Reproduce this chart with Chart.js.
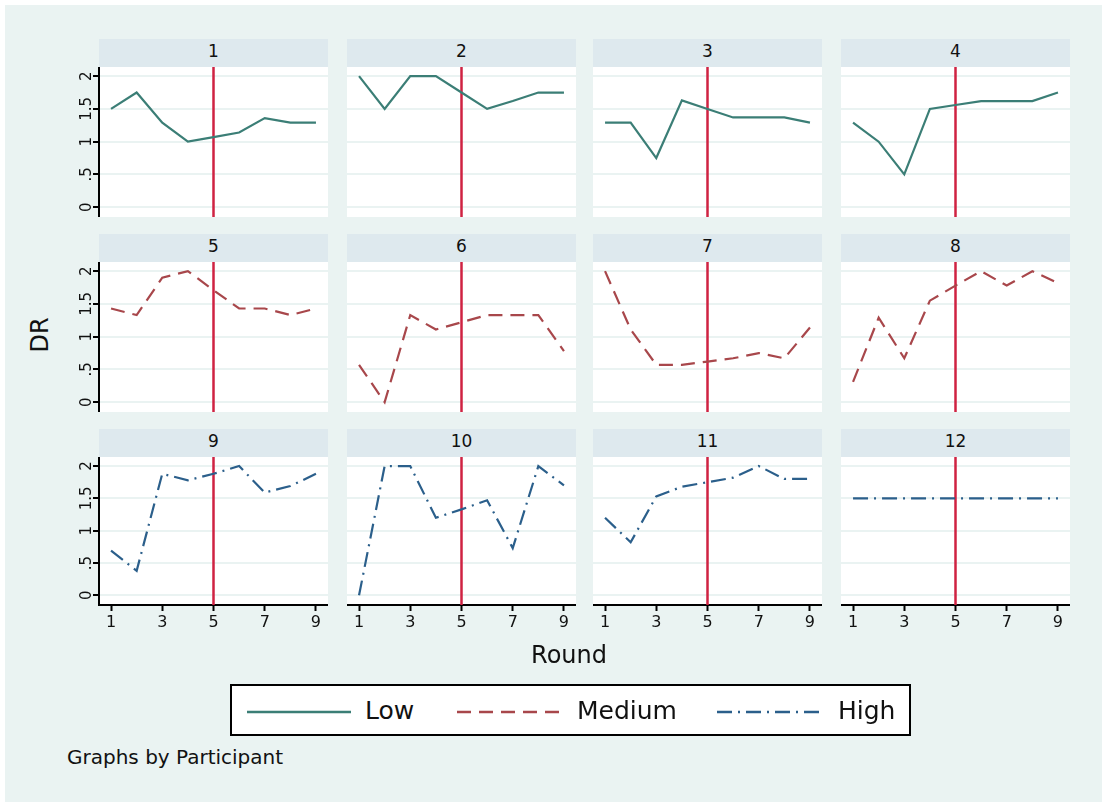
<!DOCTYPE html>
<html>
<head>
<meta charset="utf-8">
<script src="https://cdn.jsdelivr.net/npm/chart.js@4.4.1/dist/chart.umd.min.js"></script>
<style>
  body { margin:0; width:1102px; height:802px; background:#fff; position:relative; overflow:hidden; font-family:'DejaVu Sans', sans-serif; color:#111; }
  #bg { position:absolute; left:5px; top:5px; right:0; bottom:0; background:#eaf3f2; }
  .strip { position:absolute; height:28px; background:#dee9ee; text-align:center; font-size:17px; line-height:25px; }
  .plot { position:absolute; }
  .title { position:absolute; font-size:24px; white-space:nowrap; transform:translate(-50%,-50%); }
  #legend { position:absolute; left:230px; top:684px; width:677px; height:48px; background:#fff; border:2px solid #000; }
  #legend svg { position:absolute; top:0; }
  #legend span { position:absolute; top:10px; font-size:25px; line-height:30px; }
  #note { position:absolute; left:67px; top:745px; font-size:20px; }
</style>
</head>
<body>
<div id="bg"></div>
<div id="panels"></div>
<div class="title" style="left:40px;top:335px;transform:translate(-50%,-50%) rotate(-90deg);">DR</div>
<div class="title" style="left:569px;top:655px;">Round</div>
<div id="legend">
  <svg style="left:13px" width="108" height="48"><line x1="2" y1="26" x2="106" y2="26" stroke="#3b7e76" stroke-width="2.5"/></svg>
  <span style="left:133px">Low</span>
  <svg style="left:223px" width="108" height="48"><line x1="2" y1="26" x2="106" y2="26" stroke="#a8474b" stroke-width="2.5" stroke-dasharray="14 8"/></svg>
  <span style="left:345px">Medium</span>
  <svg style="left:483px" width="108" height="48"><line x1="2" y1="26" x2="106" y2="26" stroke="#2b5f8b" stroke-width="2.5" stroke-dasharray="15 6 2 6"/></svg>
  <span style="left:606px">High</span>
</div>
<div id="note">Graphs by Participant</div>

<script>
// data
const rounds = [1, 2, 3, 4, 5, 6, 7, 8, 9];
const participants = ['1', '2', '3', '4', '5', '6', '7', '8', '9', '10', '11', '12'];
const treatment = ['Low', 'Low', 'Low', 'Low', 'Medium', 'Medium', 'Medium', 'Medium', 'High', 'High', 'High', 'High'];
const dr1  = [1.5, 1.75, 1.29, 1.0, 1.07, 1.14, 1.36, 1.29, 1.29];
const dr2  = [2.0, 1.5, 2.0, 2.0, 1.75, 1.5, 1.62, 1.75, 1.75];
const dr3  = [1.29, 1.29, 0.75, 1.63, 1.5, 1.37, 1.37, 1.37, 1.29];
const dr4  = [1.29, 1.0, 0.5, 1.5, 1.56, 1.62, 1.62, 1.62, 1.75];
const dr5  = [1.43, 1.33, 1.9, 2.0, 1.71, 1.43, 1.43, 1.33, 1.43];
const dr6  = [0.57, 0.0, 1.33, 1.11, 1.22, 1.33, 1.33, 1.33, 0.78];
const dr7  = [2.0, 1.11, 0.57, 0.57, 0.62, 0.67, 0.75, 0.67, 1.14];
const dr8  = [0.31, 1.29, 0.67, 1.55, 1.78, 2.0, 1.78, 2.0, 1.82];
const dr9  = [0.69, 0.38, 1.88, 1.78, 1.88, 2.0, 1.59, 1.69, 1.88];
const dr10 = [0.0, 2.0, 2.0, 1.2, 1.33, 1.47, 0.73, 2.0, 1.7];
const dr11 = [1.2, 0.82, 1.53, 1.68, 1.75, 1.82, 2.0, 1.8, 1.8];
const dr12 = [1.5, 1.5, 1.5, 1.5, 1.5, 1.5, 1.5, 1.5, 1.5];
const drSeries = [dr1, dr2, dr3, dr4, dr5, dr6, dr7, dr8, dr9, dr10, dr11, dr12];
const yTicks = [0, 0.5, 1, 1.5, 2];
const yTickLabels = ['0', '.5', '1', '1.5', '2'];
const xTicks = [1, 3, 5, 7, 9];
const cutRound = 5;

// layout
const colLeft = [99, 347, 593, 841];
const rowTop = [39, 234, 429];
const plotW = 229;
const stripH = 28;
const plotH = [150, 150, 148];
const yAxisW = 40;
const xAxisH = 40;

const lineStyle = {
  Low:    { color: '#3b7e76', dash: [] },
  Medium: { color: '#a8474b', dash: [14, 8] },
  High:   { color: '#2b5f8b', dash: [15, 6, 2, 6] }
};

// white plot region, axis margins stay transparent
const plotFill = {
  id: 'plotFill',
  beforeDraw(chart) {
    const a = chart.chartArea, ctx = chart.ctx;
    ctx.save();
    ctx.fillStyle = '#ffffff';
    ctx.fillRect(a.left, a.top, a.right - a.left, a.bottom - a.top);
    ctx.restore();
  }
};

const cutLine = {
  id: 'cutLine',
  beforeDatasetsDraw(chart) {
    const ctx = chart.ctx;
    const x = chart.scales.x.getPixelForValue(cutRound);
    ctx.save();
    ctx.strokeStyle = '#cf2242';
    ctx.lineWidth = 2.5;
    ctx.beginPath();
    ctx.moveTo(x, chart.chartArea.top);
    ctx.lineTo(x, chart.chartArea.bottom);
    ctx.stroke();
    ctx.restore();
  }
};

// stata style vertical tick labels on the left axis
const rotatedYLabels = {
  id: 'rotatedYLabels',
  afterDraw(chart, args, opts) {
    if (!opts.show) return;
    const y = chart.scales.y, ctx = chart.ctx;
    ctx.save();
    ctx.font = '15px "DejaVu Sans"';
    ctx.fillStyle = '#111';
    ctx.textAlign = 'center';
    ctx.textBaseline = 'alphabetic';
    y.ticks.forEach(t => {
      ctx.save();
      ctx.translate(y.right - 8, y.getPixelForValue(t.value));
      ctx.rotate(-Math.PI / 2);
      ctx.fillText(yTickLabels[yTicks.indexOf(t.value)], 0, 0);
      ctx.restore();
    });
    ctx.restore();
  }
};

const host = document.getElementById('panels');

participants.forEach((name, i) => {
  const r = Math.floor(i / 4), c = i % 4;
  const showY = c === 0, showX = r === 2;

  const strip = document.createElement('div');
  strip.className = 'strip';
  strip.style.left = colLeft[c] + 'px';
  strip.style.top = rowTop[r] + 'px';
  strip.style.width = plotW + 'px';
  strip.textContent = name;
  host.appendChild(strip);

  const cv = document.createElement('canvas');
  cv.className = 'plot';
  const w = plotW + (showY ? yAxisW : 0);
  const h = plotH[r] + (showX ? xAxisH : 0);
  cv.width = w; cv.height = h;
  cv.style.width = w + 'px'; cv.style.height = h + 'px';
  cv.style.left = (colLeft[c] - (showY ? yAxisW : 0)) + 'px';
  cv.style.top = (rowTop[r] + stripH) + 'px';
  host.appendChild(cv);

  const st = lineStyle[treatment[i]];
  new Chart(cv, {
    type: 'line',
    data: {
      datasets: [{
        label: treatment[i],
        data: rounds.map((x, k) => ({ x: x, y: drSeries[i][k] })),
        borderColor: st.color,
        borderDash: st.dash,
        borderWidth: 2.2,
        pointRadius: 0,
        tension: 0,
        fill: false
      }]
    },
    options: {
      responsive: false,
      animation: false,
      devicePixelRatio: 1,
      layout: { padding: 0 },
      plugins: {
        legend: { display: false },
        tooltip: { enabled: false },
        rotatedYLabels: { show: showY }
      },
      scales: {
        x: {
          type: 'linear', min: 0.53, max: 9.47, display: showX,
          afterBuildTicks: s => { s.ticks = xTicks.map(v => ({ value: v })); },
          afterFit: s => { s.height = showX ? xAxisH : 0; },
          grid: { drawOnChartArea: false, drawTicks: true, tickLength: 6, tickColor: '#000', tickWidth: 2 },
          border: { display: true, color: '#000', width: 2 },
          ticks: { font: { size: 16, family: 'DejaVu Sans' }, color: '#111', padding: 2, maxRotation: 0, autoSkip: false }
        },
        y: {
          min: -0.15, max: 2.14,
          afterBuildTicks: s => { s.ticks = yTicks.map(v => ({ value: v })); },
          afterFit: s => { s.width = showY ? yAxisW : 0; },
          grid: { color: '#eaf3f2', lineWidth: 2, drawTicks: showY, tickLength: 6, tickColor: '#000', tickWidth: 2 },
          border: { display: showY, color: '#000', width: 2 },
          ticks: { display: false }
        }
      }
    },
    plugins: [plotFill, cutLine, rotatedYLabels]
  });
});
</script>
</body>
</html>
